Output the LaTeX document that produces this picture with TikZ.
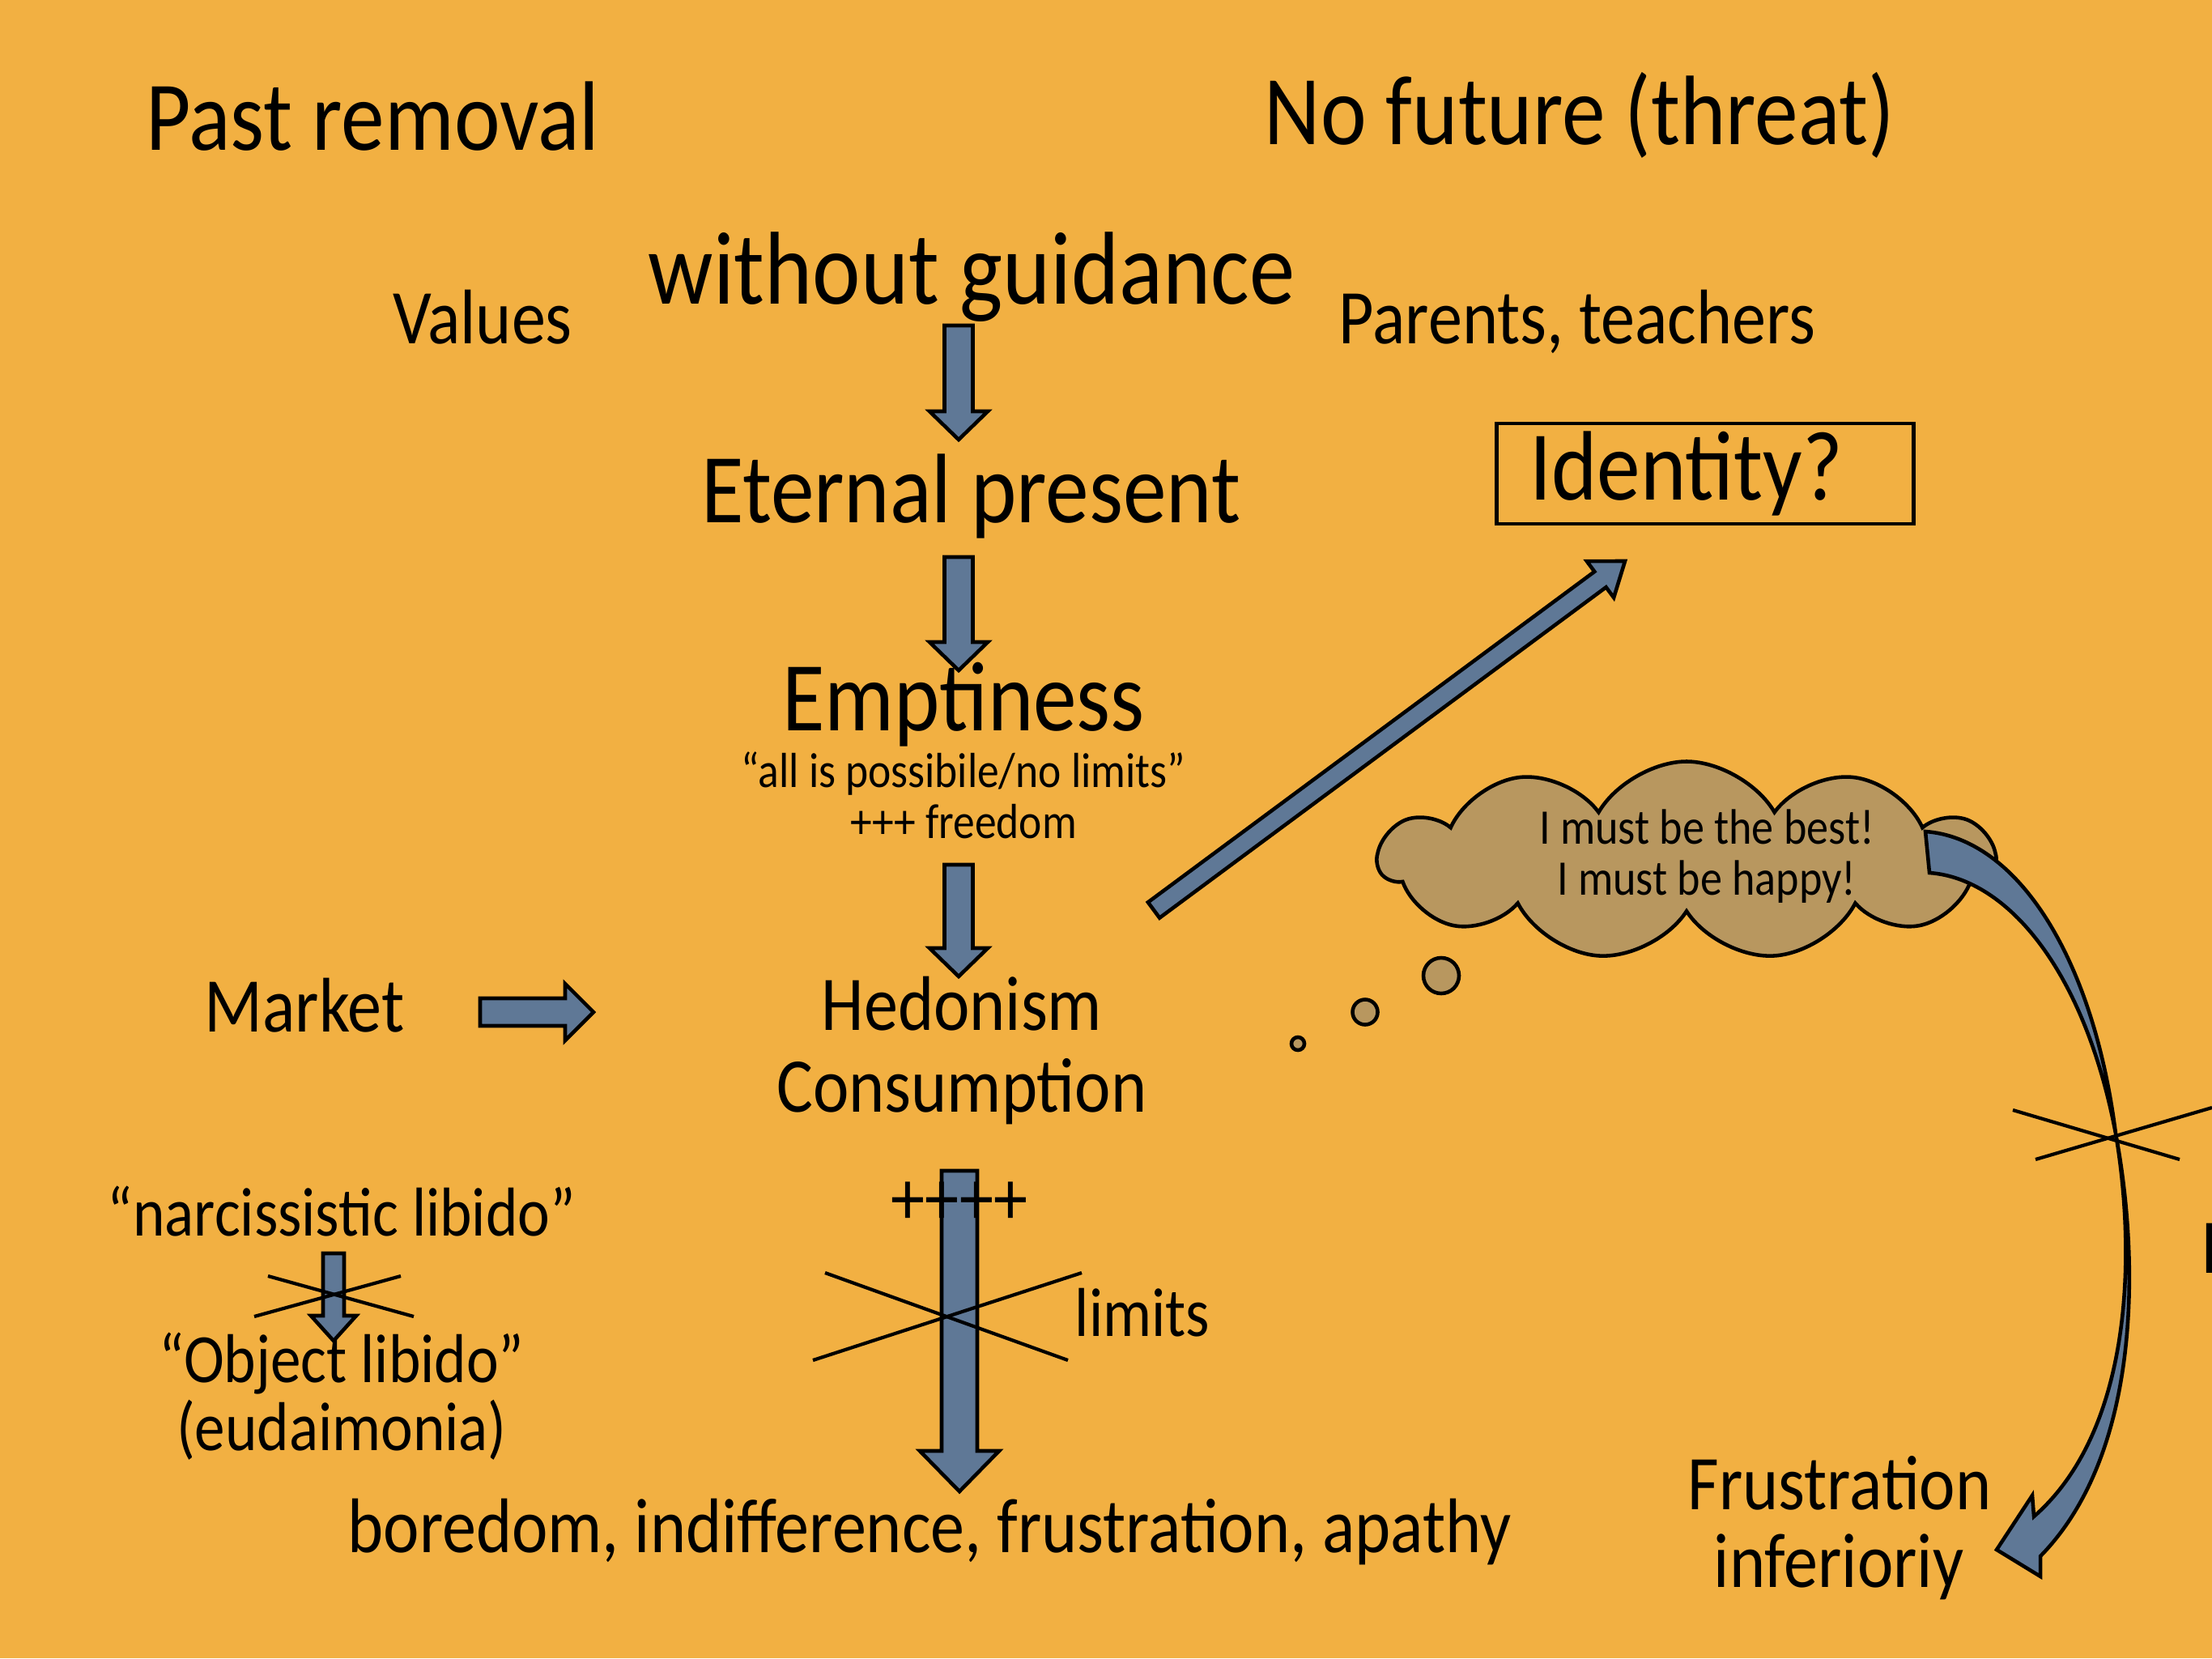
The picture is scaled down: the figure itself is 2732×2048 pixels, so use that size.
\documentclass[tikz,border=0pt]{standalone}
\usepackage{fontspec}
\setmainfont{Carlito}[FakeStretch=0.88]
\usetikzlibrary{positioning,calc,shapes.symbols}

\definecolor{slide}{HTML}{F2B042}
\definecolor{slate}{HTML}{5F7896}
\definecolor{thought}{HTML}{B8975F}

% block arrow: tail, tip, half shaft, half head, head length
\newcommand{\fatarrow}[5]{%
  \coordinate (fa-h) at ($(#2)!#5!(#1)$);
  \filldraw[fat arrow] ($(#1)!#3!90:(#2)$) -- ($(fa-h)!#3!90:(#2)$)
    -- ($(fa-h)!#4!90:(#2)$) -- (#2) -- ($(fa-h)!#4!-90:(#2)$)
    -- ($(fa-h)!#3!-90:(#2)$) -- ($(#1)!#3!-90:(#2)$) -- cycle;}

\begin{document}
\begin{tikzpicture}[x=0.1mm,y=-0.1mm,
    big/.style={font=\fontsize{34.7}{40}\selectfont,inner sep=0pt,anchor=base},
    mid/.style={font=\fontsize{27.2}{32}\selectfont,inner sep=0pt,anchor=base},
    libido/.style={font=\fontsize{24.3}{29}\selectfont,inner sep=0pt,anchor=base},
    small/.style={font=\fontsize{17.3}{20}\selectfont,inner sep=0pt,anchor=base},
    fat arrow/.style={fill=slate,draw=black,line width=1.3pt,line join=miter},
    cross/.style={draw=black,line width=1.2pt},
    bubble/.style={fill=thought,draw=black,line width=1.3pt}
  ]
  \useasboundingbox (0,0) rectangle (2732,2048);
  \fill[slide] (0,0) rectangle (2732,2048);

  % thought cloud
  \node[cloud,cloud puffs=11,cloud puff arc=120,aspect=3,bubble,
        minimum width=7.6cm,minimum height=2.45cm] (cloud) at (2083,1063) {};
  \node[bubble,circle,inner sep=0pt,minimum size=4.4mm] (puffa) at (1780,1205) {};
  \node[bubble,circle,inner sep=0pt,minimum size=3.1mm] (puffb) at (1686,1250) {};
  \node[bubble,circle,inner sep=0pt,minimum size=1.6mm] (puffc) at (1603,1289) {};
  \node[font=\fontsize{17.5}{17.9}\selectfont,align=center,inner sep=0pt]
        (musts) at (2108,1058) {I must be the best!\\I must be happy!};

  % twisted arrow from the cloud
  \filldraw[fat arrow] (2378,1027) .. controls (2490,1035) and (2585,1180) .. (2613,1400)
    .. controls (2640,1560) and (2630,1770) .. (2512,1873)
    -- (2510,1847) -- (2466,1914) -- (2520,1947) -- (2520,1922)
    .. controls (2640,1800) and (2645,1570) .. (2613,1400)
    .. controls (2575,1200) and (2480,1085) .. (2383,1078) -- cycle;

  \node[big] (past) at (460,186) {Past removal};
  \node[big] (future) at (1951,179) {No future (threat)};
  \node[big,font=\fontsize{36.4}{42}\selectfont] (guide) at (1200,375) {without guidance};
  \node[mid] (values) at (596,425) {Values};
  \node[mid] (parents) at (1948,425) {Parents, teachers};
  \node[big] (eternal) at (1199,645) {Eternal present};
  \node[big,draw,line width=1.3pt,anchor=center,minimum width=5.15cm,minimum height=1.24cm,
        text width=4.33cm,inner xsep=0.41cm,align=left] (identity) at (2106,585) {Identity?};
  \node[big] (empty) at (1190,902) {Emptiness};
  \node[small] (possible) at (1190,972) {“all is possibile/no limits”};
  \node[small] (freedom) at (1190,1035) {+++ freedom};
  \node[mid] (market) at (376,1274) {Market};
  \node[mid] (hedonism) at (1188,1272) {Hedonism};
  \node[mid] (consume) at (1188,1373) {Consumption};
  \node[libido] (narcis) at (422,1526) {“narcissistic libido”};
  \node[libido] (object) at (422,1707) {“Object libido”};
  \node[libido] (eudai) at (422,1791) {(eudaimonia)};
  \node[libido] (limits) at (1411,1650) {limits};
  \node[mid] (boredom) at (1148,1917) {boredom, indifference, frustration, apathy};
  \node[mid] (frustr) at (2272,1864) {Frustration};
  \node[mid] (infer) at (2271,1960) {inferioriy};
  \node[mid,anchor=base west] (cutoff) at (2718,1572) {I};

  % arrow ends
  \coordinate (a1s) at (1184,402);  \coordinate (a1e) at (1184,543);
  \coordinate (a2s) at (1184,688);  \coordinate (a2e) at (1184,828);
  \coordinate (a3s) at (1184,1068); \coordinate (a3e) at (1184,1206);
  \coordinate (mks) at (593,1250);  \coordinate (mke) at (733,1250);
  \coordinate (lbs) at (412,1548);  \coordinate (lbe) at (412,1656);
  \coordinate (bds) at (1185,1446); \coordinate (bde) at (1185,1842);
  \coordinate (ids) at (1425,1124); \coordinate (ide) at (2007,693);

  \fatarrow{a1s}{a1e}{1.75mm}{3.6mm}{3.5mm}
  \fatarrow{a2s}{a2e}{1.75mm}{3.6mm}{3.5mm}
  \fatarrow{a3s}{a3e}{1.75mm}{3.6mm}{3.5mm}
  \fatarrow{mks}{mke}{1.7mm}{3.5mm}{3.5mm}
  \fatarrow{lbs}{lbe}{1.3mm}{2.8mm}{3.1mm}
  \fatarrow{bds}{bde}{2.2mm}{4.9mm}{5mm}
  \fatarrow{ids}{ide}{1.2mm}{2.8mm}{3.8mm}

  \node[mid] (plus) at (1185,1512) {++++};

  % crossed out
  \draw[cross] (1019,1572) -- (1319,1680);
  \draw[cross] (1004,1680) -- (1336,1572);
  \draw[cross] (331,1576) -- (511,1626);
  \draw[cross] (314,1626) -- (495,1576);
  \draw[cross] (2486,1371) -- (2692,1432);
  \draw[cross] (2514,1432) -- (2732,1368);
\end{tikzpicture}
\end{document}
